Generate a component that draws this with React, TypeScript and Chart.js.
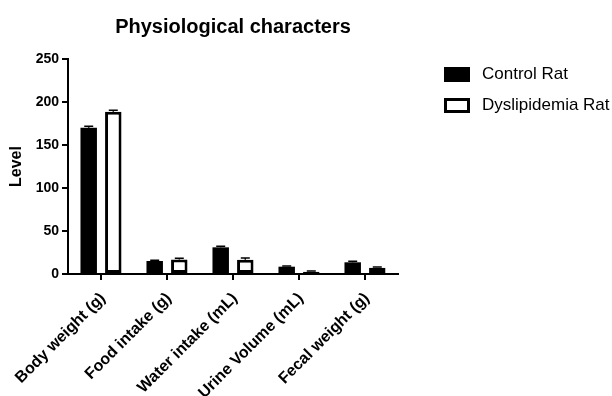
import React, { useEffect, useRef } from "react";
import { Chart, registerables } from "chart.js";

Chart.register(...registerables);

const categories = [
  "Body weight (g)",
  "Food intake (g)",
  "Water intake (mL)",
  "Urine Volume (mL)",
  "Fecal weight (g)",
];
const controlValues = [170.2, 15.1, 31.0, 8.5, 13.6];
const controlErrors = [1.6, 1.0, 1.2, 0.8, 1.2];
const dysValues = [188.7, 17.0, 16.6, 2.7, 7.4];
const dysErrors = [1.6, 1.2, 2.0, 0.8, 0.8];
const yTicks = [0, 50, 100, 150, 200, 250];

const FONT = "Arial, 'Liberation Sans', Helvetica, sans-serif";

const errorBarPlugin = {
  id: "errorBars",
  afterDatasetsDraw(chart: any) {
    const ctx = chart.ctx;
    const yScale = chart.scales.y;
    chart.data.datasets.forEach((ds: any, di: number) => {
      const meta = chart.getDatasetMeta(di);
      const errs: number[] = ds.errors || [];
      meta.data.forEach((bar: any, i: number) => {
        const v = ds.data[i];
        const e = errs[i] || 0;
        const yTop = yScale.getPixelForValue(v + e);
        const yBase = yScale.getPixelForValue(v);
        const x = bar.x;
        ctx.save();
        ctx.strokeStyle = "#000";
        ctx.lineWidth = 1.5;
        ctx.beginPath();
        ctx.moveTo(x, yBase);
        ctx.lineTo(x, yTop);
        ctx.moveTo(x - 4.5, yTop);
        ctx.lineTo(x + 4.5, yTop);
        ctx.stroke();
        ctx.restore();
      });
    });
  },
};

const legendPlugin = {
  id: "customLegend",
  afterDraw(chart: any) {
    const ctx = chart.ctx;
    const items = [
      { label: "Control Rat", fill: "#000", y: 67 },
      { label: "Dyslipidemia Rat", fill: "#fff", y: 98 },
    ];
    ctx.save();
    items.forEach((it) => {
      ctx.fillStyle = "#000";
      ctx.fillRect(444, it.y, 26, 15);
      if (it.fill === "#fff") {
        ctx.fillStyle = "#fff";
        ctx.fillRect(447, it.y + 3, 20, 9);
      }
      ctx.fillStyle = "#000";
      ctx.font = `17px ${FONT}`;
      ctx.textBaseline = "middle";
      ctx.textAlign = "left";
      ctx.fillText(it.label, 482, it.y + 7.5);
    });
    ctx.restore();
  },
};

export default function App() {
  const ref = useRef<HTMLCanvasElement>(null);

  useEffect(() => {
    if (!ref.current) return;
    const chart = new Chart(ref.current, {
      type: "bar",
      data: {
        labels: categories,
        datasets: [
          {
            label: "Control Rat",
            data: controlValues,
            errors: controlErrors,
            backgroundColor: "#000",
            borderColor: "#000",
            borderWidth: 0,
            barPercentage: 0.67,
            categoryPercentage: 0.745,
          } as any,
          {
            label: "Dyslipidemia Rat",
            data: dysValues,
            errors: dysErrors,
            backgroundColor: "#fff",
            borderColor: "#000",
            borderWidth: 3,
            borderSkipped: false,
            barPercentage: 0.67,
            categoryPercentage: 0.745,
          } as any,
        ],
      },
      options: {
        responsive: false,
        animation: false,
        layout: { padding: { left: 0, right: 214, top: 0, bottom: 0 } },
        plugins: {
          legend: { display: false },
          tooltip: { enabled: false },
          title: {
            display: true,
            text: "Physiological characters",
            color: "#000",
            fullSize: false,
            font: { family: FONT, size: 20, weight: "bold" },
            padding: { top: 15, bottom: 20 },
          },
        },
        scales: {
          x: {
            offset: true,
            grid: {
              display: true,
              drawOnChartArea: false,
              drawTicks: true,
              tickLength: 6,
              color: "#000",
              lineWidth: 2,
              offset: false,
            },
            border: { display: true, color: "#000", width: 2 },
            ticks: {
              color: "#000",
              font: { family: FONT, size: 16, weight: "bold" },
              minRotation: 45,
              maxRotation: 45,
              autoSkip: false,
              padding: 9,
              labelOffset: 2,
            },
            afterFit(scale: any) {
              scale.height = 122;
            },
          },
          y: {
            min: 0,
            max: 250,
            afterBuildTicks(scale: any) {
              scale.ticks = yTicks.map((v) => ({ value: v }));
            },
            grid: {
              display: true,
              drawOnChartArea: false,
              drawTicks: true,
              tickLength: 6,
              color: "#000",
              lineWidth: 2,
            },
            border: { display: true, color: "#000", width: 2 },
            ticks: {
              color: "#000",
              font: { family: FONT, size: 14, weight: "bold" },
              padding: 3,
            },
            title: {
              display: true,
              text: "Level",
              color: "#000",
              font: { family: FONT, size: 16, weight: "bold" },
              padding: { top: 7, bottom: 4 },
            },
            afterFit(scale: any) {
              scale.width = 68;
            },
          },
        },
      },
      plugins: [errorBarPlugin, legendPlugin],
    });
    return () => chart.destroy();
  }, []);

  return (
    <div style={{ position: "fixed", left: 0, top: 0, width: 612, height: 396, background: "#fff" }}>
      <canvas ref={ref} width={612} height={396} />
    </div>
  );
}
